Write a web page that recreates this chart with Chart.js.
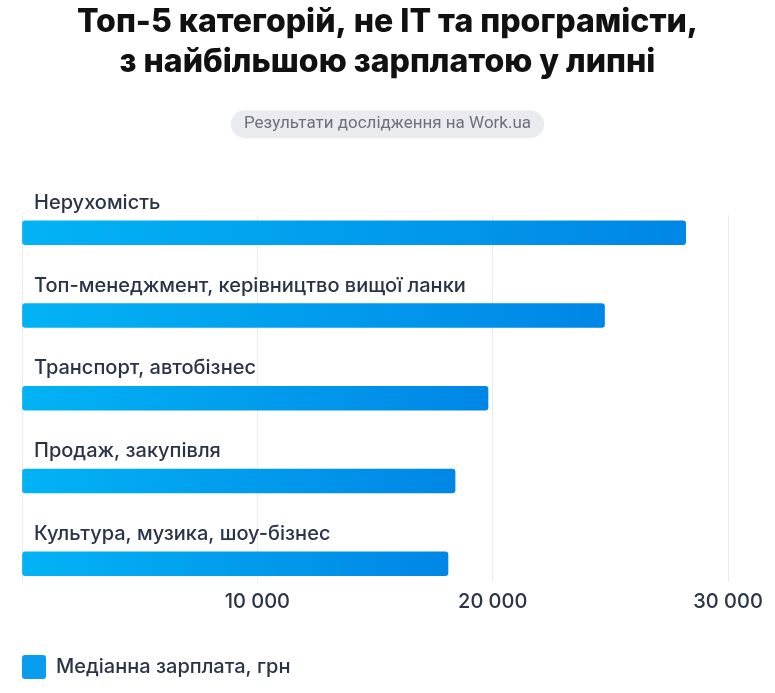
<!DOCTYPE html>
<html>
<head>
<meta charset="utf-8">
<script src="https://cdn.jsdelivr.net/npm/chart.js@4.4.0/dist/chart.umd.min.js"></script>
<style>
html, body { margin: 0; padding: 0; background: #fff; }
#wrap { width: 775px; height: 693px; }
</style>
</head>
<body>
<div id="wrap"><canvas id="salaryChart"></canvas></div>
<script>
var categories = [
    "Нерухомість",
    "Топ-менеджмент, керівництво вищої ланки",
    "Транспорт, автобізнес",
    "Продаж, закупівля",
    "Культура, музика, шоу-бізнес"
];
var salaries = [28200, 24750, 19800, 18400, 18100];
var xTicks = [0, 10000, 20000, 30000];
var seriesLabel = "Медіанна зарплата, грн";
var titleLines = ["Топ-5 категорій, не IT та програмісти,", "з найбільшою зарплатою у липні"];
var subtitleText = "Результати дослідження на Work.ua";

var textColor = '#2a3446';
var subFont = { family: 'Roboto', size: 17, weight: '400', lineHeight: 1.2 };
var labelFont = { family: 'Inter', size: 20, weight: '500' };

function barGradient(context) {
    var chart = context.chart;
    var area = chart.chartArea;
    if (!area || context.type !== 'data' || !context.parsed) {
        return '#0a9cee';
    }
    var x1 = chart.scales.x.getPixelForValue(context.parsed.x);
    var yc = chart.scales.y.getPixelForValue(context.parsed.y);
    var g = chart.ctx.createLinearGradient(area.left, yc - 12, x1, yc + 12);
    g.addColorStop(0, '#02b3f4');
    g.addColorStop(1, '#0086e6');
    return g;
}

// grey pill behind the subtitle
var subtitlePill = {
    id: 'subtitlePill',
    beforeDraw: function (chart) {
        var box = chart.boxes.find(function (b) {
            return b.options && b.options.text === subtitleText;
        });
        if (!box) return;
        var ctx = chart.ctx;
        var pad = chart.options.plugins.subtitle.padding;
        ctx.save();
        ctx.font = subFont.weight + ' ' + subFont.size + 'px ' + subFont.family;
        var w = ctx.measureText(subtitleText).width + 26;
        var h = 28;
        var cx = (box.left + box.right) / 2;
        var cy = box.top + pad.top + subFont.size * subFont.lineHeight / 2;
        ctx.fillStyle = '#e9ebee';
        ctx.beginPath();
        ctx.roundRect(cx - w / 2, cy - h / 2, w, h, h / 2);
        ctx.fill();
        ctx.restore();
    }
};

var salaryChart = document.getElementById("salaryChart");
var salaryChartConfig = {
    type: 'bar',
    data: {
        datasets: [{
            label: seriesLabel,
            data: salaries.map(function (v, i) { return { x: v, y: i }; }),
            backgroundColor: barGradient,
            barThickness: 24,
            borderRadius: 3,
            borderSkipped: false
        }]
    },
    plugins: [subtitlePill],
    options: {
        indexAxis: 'y',
        responsive: true,
        maintainAspectRatio: false,
        animation: false,
        layout: {
            padding: { top: 0, left: 22, right: 22, bottom: 4 }
        },
        scales: {
            x: {
                type: 'linear',
                min: 0,
                max: 31060,
                afterBuildTicks: function (scale) {
                    scale.ticks = xTicks.map(function (v) { return { value: v }; });
                },
                afterFit: function (scale) {
                    scale.height = 73;
                },
                grid: { color: '#ebebeb', lineWidth: 1, drawTicks: false },
                border: { display: false },
                ticks: {
                    padding: 8,
                    color: textColor,
                    font: labelFont,
                    callback: function (v) {
                        return v === 0 ? '' : String(v).replace(/\B(?=(\d{3})+(?!\d))/g, ' ');
                    }
                }
            },
            y: {
                type: 'linear',
                reverse: true,
                offset: false,
                min: -0.21,
                max: 4.22,
                afterBuildTicks: function (scale) {
                    scale.ticks = categories.map(function (c, i) { return { value: i }; });
                },
                afterFit: function (scale) {
                    scale.width = 0;
                },
                grid: { display: false, drawTicks: false },
                border: { display: false },
                ticks: {
                    mirror: true,
                    padding: 12,
                    labelOffset: -30,
                    autoSkip: false,
                    color: textColor,
                    font: labelFont,
                    callback: function (v) { return categories[v]; }
                }
            }
        },
        plugins: {
            title: {
                display: true,
                text: titleLines,
                color: '#111111',
                font: { family: 'Inter', size: 32, weight: '800', lineHeight: '40px' },
                padding: { top: 2, bottom: 0 }
            },
            subtitle: {
                display: true,
                text: subtitleText,
                color: '#6b717c',
                font: subFont,
                padding: { top: 32, bottom: 81 }
            },
            legend: {
                position: 'bottom',
                align: 'start',
                labels: {
                    boxWidth: 24,
                    boxHeight: 24,
                    padding: 0,
                    useBorderRadius: true,
                    borderRadius: 3,
                    color: textColor,
                    font: labelFont,
                    generateLabels: function (chart) {
                        return [{
                            text: seriesLabel,
                            fillStyle: '#0a9cee',
                            strokeStyle: 'rgba(0,0,0,0)',
                            lineWidth: 0,
                            fontColor: textColor,
                            datasetIndex: 0,
                            borderRadius: 3
                        }];
                    }
                }
            },
            tooltip: { enabled: false }
        }
    }
};
var salaryChartObj = new Chart(salaryChart, salaryChartConfig);
</script>
</body>
</html>
